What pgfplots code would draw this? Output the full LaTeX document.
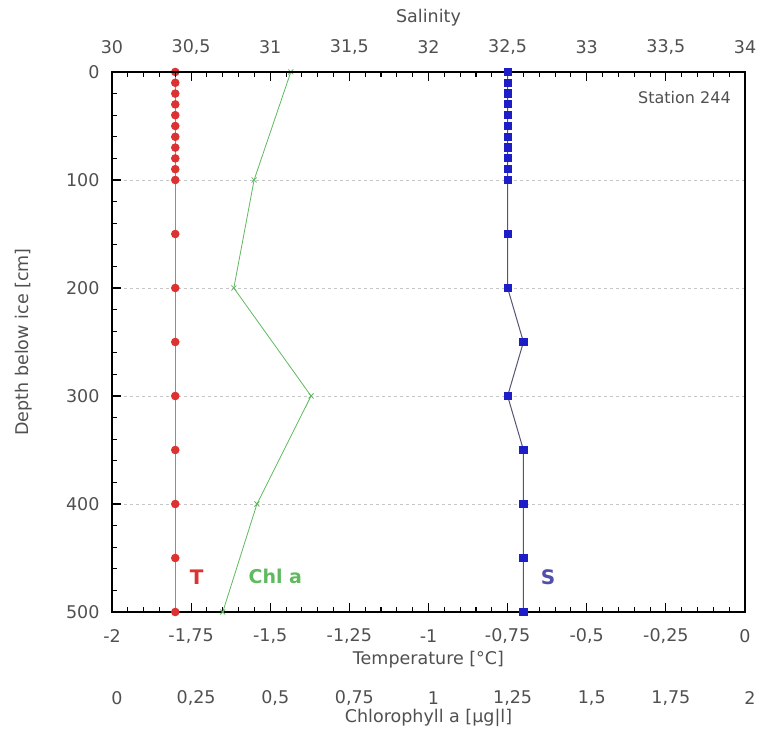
\documentclass[border=0pt]{standalone}
\usepackage{fontspec}
\setmainfont{DejaVu Sans}
\usepackage{pgfplots}
\pgfplotsset{compat=1.18}

\definecolor{tred}{RGB}{220,50,50}
\definecolor{tline}{RGB}{230,105,105}
\definecolor{sblue}{RGB}{30,30,200}
\definecolor{sline}{RGB}{85,85,115}
\definecolor{slabel}{RGB}{80,80,170}
\definecolor{chl}{RGB}{95,185,95}
\definecolor{txt}{RGB}{80,80,80}

\pgfplotsset{
  common/.style={
    scale only axis, width=633pt, height=540pt,
    ymin=0, ymax=500, y dir=reverse, clip=false,
    /pgf/number format/assume math mode=true,
    /pgf/number format/use comma,
    /pgf/number format/1000 sep={},
    tick label style={font=\fontsize{17.5}{21}\selectfont, text=txt},
    label style={font=\fontsize{17.5}{21}\selectfont, text=txt},
    axis line style={black, line width=1.8pt},
    tick style={black, line width=1.1pt},
    major tick length=9pt, minor tick length=5pt,
  },
}

\begin{document}
\begin{tikzpicture}
% temperature (bottom) and depth
\begin{axis}[common,
  xmin=-2, xmax=0,
  xtick={-2,-1.75,-1.5,-1.25,-1,-0.75,-0.5,-0.25,0},
  minor x tick num=4,
  ytick={0,100,200,300,400,500},
  minor y tick num=4,
  xtick pos=bottom, ytick pos=left,
  xticklabel style={anchor=center, yshift=-24pt},
  yticklabel style={xshift=-9pt},
  xlabel={Temperature [°C]},
  xlabel style={at={(axis description cs:0.5,-0.0889)}, anchor=center},
  ylabel={Depth below ice [cm]},
  ylabel style={at={(axis description cs:-0.139,0.5)}, anchor=center},
  ymajorgrids, grid style={dashed, gray!45, line width=0.6pt},
]
\addplot[tline, line width=0.9pt, mark=*, mark size=3.8pt,
  mark options={fill=tred, draw=tred}] coordinates {
  (-1.8,0) (-1.8,10) (-1.8,20) (-1.8,30) (-1.8,40) (-1.8,50)
  (-1.8,60) (-1.8,70) (-1.8,80) (-1.8,90) (-1.8,100)
  (-1.8,150) (-1.8,200) (-1.8,250) (-1.8,300) (-1.8,350)
  (-1.8,400) (-1.8,450) (-1.8,500)
};
\node[anchor=east, font=\fontsize{16}{18}\selectfont, text=txt]
  at (axis description cs:0.983,0.952) {Station 244};
\node[font=\fontsize{20}{24}\selectfont\bfseries, text=tred]
  at (axis description cs:0.134,0.065) {T};
\node[font=\fontsize{19}{24}\selectfont\bfseries, text=chl]
  at (axis description cs:0.258,0.065) {Chl a};
\node[font=\fontsize{20}{24}\selectfont\bfseries, text=slabel]
  at (axis description cs:0.689,0.065) {S};
\path (axis description cs:-0.1769,-0.2333) rectangle (axis description cs:1.0237,1.1333);
\end{axis}

% chlorophyll a (second bottom scale)
\begin{axis}[common,
  xmin=0, xmax=2,
  axis x line*=bottom, axis y line=none,
  axis line style={draw=none},
  xtick={0,0.25,0.5,0.75,1,1.25,1.5,1.75,2},
  major tick length=0pt, minor x tick num=0,
  xticklabel style={anchor=center, yshift=-86pt, xshift=5pt},
  xlabel={Chlorophyll a [µg|l]},
  xlabel style={at={(axis description cs:0.5,-0.196)}, anchor=center},
]
\addplot[chl, line width=0.8pt, mark=x, mark size=3.5pt] coordinates {
  (0.565,0) (0.449,100) (0.385,200) (0.629,300) (0.458,400) (0.35,500)
};
\end{axis}

% salinity (top)
\begin{axis}[common,
  xmin=30, xmax=34,
  axis x line*=top, axis y line=none,
  xtick={30,30.5,31,31.5,32,32.5,33,33.5,34},
  minor x tick num=4,
  xticklabel style={anchor=center, yshift=25pt},
  xlabel={Salinity},
  xlabel style={at={(axis description cs:0.5,1.1)}, anchor=center},
]
\addplot[sline, line width=1pt, mark=square*, mark size=3.6pt,
  mark options={fill=sblue, draw=sblue}] coordinates {
  (32.5,0) (32.5,10) (32.5,20) (32.5,30) (32.5,40) (32.5,50)
  (32.5,60) (32.5,70) (32.5,80) (32.5,90) (32.5,100)
  (32.5,150) (32.5,200) (32.6,250) (32.5,300) (32.6,350)
  (32.6,400) (32.6,450) (32.6,500)
};
\end{axis}
\end{tikzpicture}
\end{document}
